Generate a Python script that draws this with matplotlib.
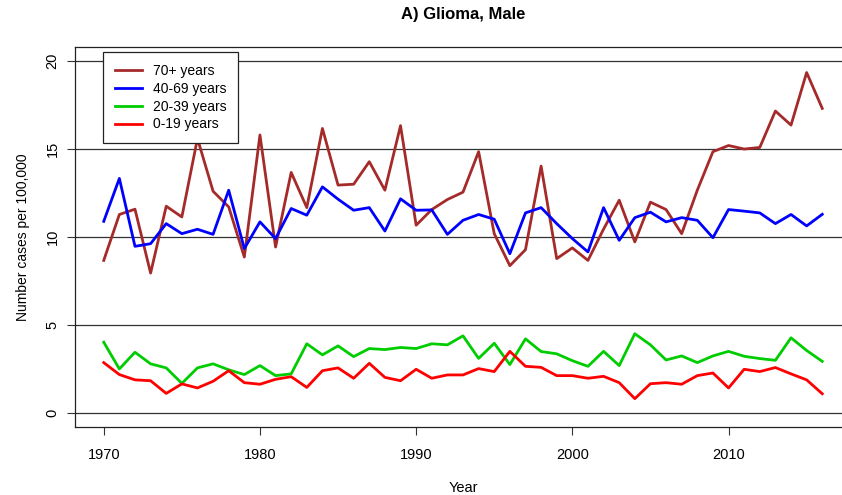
import numpy as np
import matplotlib.pyplot as plt

years = np.arange(1970, 2017)

age_70_plus = [8.67, 11.28, 11.58, 7.95, 11.75, 11.14, 15.6, 12.6, 11.71, 8.86,
               15.8, 9.43, 13.67, 11.67, 16.17, 12.95, 13.0, 14.28, 12.66, 16.33,
               10.67, 11.56, 12.13, 12.55, 14.85, 10.19, 8.37, 9.28, 14.03, 8.77,
               9.38, 8.67, 10.45, 12.09, 9.72, 11.98, 11.56, 10.19, 12.66, 14.85,
               15.2, 15.0, 15.09, 17.16, 16.36, 19.35, 17.31]

age_40_69 = [10.89, 13.33, 9.47, 9.62, 10.76, 10.19, 10.44, 10.15, 12.66, 9.34,
             10.86, 9.91, 11.62, 11.24, 12.85, 12.15, 11.52, 11.67, 10.34, 12.17,
             11.52, 11.54, 10.15, 10.95, 11.28, 11.01, 9.05, 11.37, 11.67, 10.76,
             9.91, 9.15, 11.67, 9.81, 11.1, 11.41, 10.86, 11.1, 10.95, 9.96,
             11.56, 11.47, 11.37, 10.76, 11.28, 10.63, 11.29]

age_20_39 = [4.02, 2.5, 3.45, 2.79, 2.56, 1.68, 2.56, 2.79, 2.45, 2.18,
             2.69, 2.12, 2.22, 3.93, 3.3, 3.81, 3.2, 3.66, 3.6, 3.72,
             3.66, 3.93, 3.87, 4.38, 3.1, 3.96, 2.75, 4.21, 3.49, 3.36,
             2.97, 2.65, 3.5, 2.69, 4.5, 3.87, 3.01, 3.24, 2.86, 3.24,
             3.5, 3.22, 3.09, 2.99, 4.27, 3.55, 2.93]

age_0_19 = [2.86, 2.18, 1.88, 1.83, 1.11, 1.65, 1.42, 1.8, 2.4, 1.72,
            1.63, 1.91, 2.06, 1.45, 2.4, 2.56, 1.97, 2.82, 2.02, 1.83,
            2.48, 1.97, 2.16, 2.16, 2.52, 2.35, 3.5, 2.65, 2.59, 2.12,
            2.12, 1.97, 2.08, 1.72, 0.81, 1.66, 1.72, 1.63, 2.12, 2.27,
            1.42, 2.48, 2.35, 2.58, 2.22, 1.88, 1.09]

series_labels = ['70+ years', '40-69 years', '20-39 years', '0-19 years']
series_colors = ['#A52A2A', '#0000FF', '#00CD00', '#FF0000']
x_ticks = [1970, 1980, 1990, 2000, 2010]
y_ticks = [0, 5, 10, 15, 20]

# Plot ...............................................................................

plt.rcParams['font.family'] = ['Liberation Sans', 'DejaVu Sans']

fig = plt.figure(figsize = (8.42, 4.95), dpi = 100)
ax = fig.add_axes([75 / 842, 1 - 427 / 495, 776 / 842, 380 / 495])

# Horizontal reference lines
for yv in y_ticks:
    ax.axhline(yv, color = '#333333', lw = 0.9, zorder = 1)

for vals, lab, col in zip([age_70_plus, age_40_69, age_20_39, age_0_19], series_labels, series_colors):
    ax.plot(years, vals, color = col, lw = 2.0, label = lab, zorder = 2)

ax.set_xlim(1968.16, 2017.84)
ax.set_ylim(-0.8, 20.8)

ax.set_xticks(x_ticks)
ax.set_yticks(y_ticks)
ax.tick_params(axis = 'both', direction = 'out', length = 6, width = 0.8, labelsize = 10.5, color = '#333333')
ax.tick_params(axis = 'x', pad = 9)
ax.tick_params(axis = 'y', pad = 5)
for lbl in ax.get_yticklabels():
    lbl.set_rotation(90)
    lbl.set_va('center')

for side in ['top', 'bottom', 'left', 'right']:
    ax.spines[side].set_linewidth(0.9)
    ax.spines[side].set_color('#222222')

ax.set_xlabel('Year', fontsize = 10.5, labelpad = 14)
ax.set_ylabel('Number cases per 100,000', fontsize = 10, labelpad = 11)
ax.set_title('A) Glioma, Male', fontsize = 12, fontweight = 'bold', pad = 20)

leg = ax.legend(loc = 'upper left', bbox_to_anchor = (103 / 842, 1 - 52 / 495), bbox_transform = fig.transFigure,
                fontsize = 10, frameon = True, fancybox = False, handlelength = 1.95, handletextpad = 0.8,
                labelspacing = 0.28, borderpad = 0.85, borderaxespad = 0)
leg.get_frame().set_edgecolor('#222222')
leg.get_frame().set_linewidth(0.9)
leg.get_frame().set_alpha(1)

plt.savefig('out.png', dpi = 100)
